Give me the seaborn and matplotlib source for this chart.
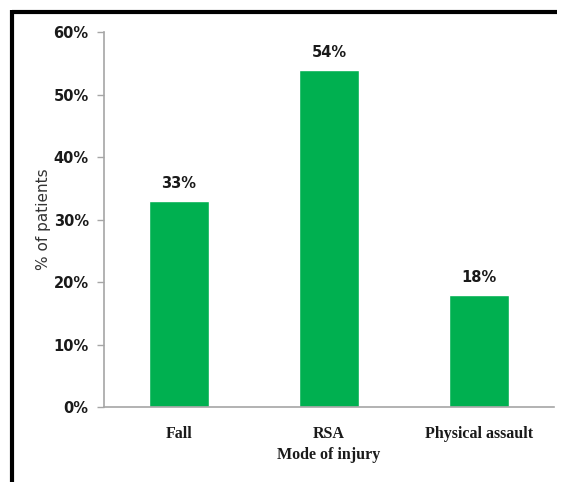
import matplotlib
matplotlib.use("Agg")
import matplotlib.pyplot as plt
from matplotlib.lines import Line2D
import seaborn as sns
import pandas as pd

# Mode of injury breakdown
modes = ["Fall", "RSA", "Physical assault"]
percent = [33, 54, 18]
yticks = [0, 10, 20, 30, 40, 50, 60]

df = pd.DataFrame({"mode": modes, "pct": percent})

sns.set_style("white")
fig = plt.figure(figsize=(5.61, 4.82), dpi=100)
ax = fig.add_axes([0.1854, 0.1556, 0.8021, 0.778])

sns.barplot(data=df, x="mode", y="pct", color="#00B050", width=0.4,
            saturation=1, ax=ax)

ax.set_ylim(0, 60)
ax.set_xlim(-0.5, 2.5)
ax.set_yticks(yticks)
ax.set_yticklabels([f"{v}%" for v in yticks], fontfamily="DejaVu Sans",
                   fontweight="bold", fontsize=10.5, color="#1a1a1a")
ax.set_xticks(range(len(modes)))
ax.set_xticklabels(modes, fontfamily="Liberation Serif", fontweight="bold",
                   fontsize=11.5, color="#1a1a1a")

for i, v in enumerate(percent):
    ax.text(i, v + 1.6, f"{v}%", ha="center", va="bottom",
            fontfamily="DejaVu Sans", fontweight="bold", fontsize=10.5,
            color="#1a1a1a")

ax.set_xlabel("Mode of injury", fontfamily="Liberation Serif",
              fontweight="bold", fontsize=11.5, color="#1a1a1a", labelpad=4)
ax.set_ylabel("% of patients", fontfamily="DejaVu Sans", fontsize=11,
              color="#333333")
ax.yaxis.set_label_coords(-0.118, 0.5)

for side in ("top", "right"):
    ax.spines[side].set_visible(False)
for side in ("left", "bottom"):
    ax.spines[side].set_color("#a6a6a6")
    ax.spines[side].set_linewidth(1.2)

ax.tick_params(axis="y", which="both", left=True, length=5, width=1,
               color="#a6a6a6", pad=6)
ax.tick_params(axis="x", which="both", bottom=False, pad=10)

# Black frame along the top and left edges
fig.add_artist(Line2D([12 / 561, 557 / 561], [1 - 12 / 482, 1 - 12 / 482],
                      color="black", linewidth=3, transform=fig.transFigure,
                      solid_capstyle="butt"))
fig.add_artist(Line2D([12 / 561, 12 / 561], [0, 1 - 10 / 482],
                      color="black", linewidth=3, transform=fig.transFigure,
                      solid_capstyle="butt"))

fig.savefig("out.png", dpi=100)
